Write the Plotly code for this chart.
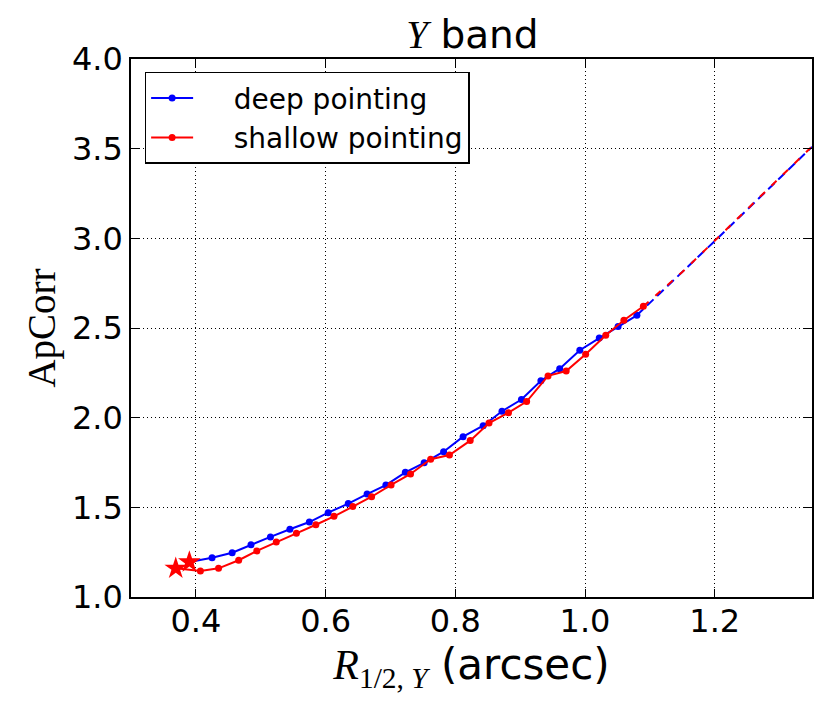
import plotly.graph_objects as go

# deep pointing (blue)
deep_r = [0.390, 0.425, 0.456, 0.485, 0.515, 0.545, 0.575, 0.604, 0.635, 0.664,
          0.693, 0.723, 0.752, 0.782, 0.812, 0.843, 0.872, 0.902, 0.932, 0.961,
          0.992, 1.022, 1.051, 1.080]
deep_apcorr = [1.195, 1.219, 1.247, 1.292, 1.335, 1.378, 1.418, 1.470, 1.521, 1.574,
               1.624, 1.695, 1.748, 1.810, 1.894, 1.955, 2.036, 2.101, 2.206, 2.273,
               2.376, 2.444, 2.508, 2.571]

# shallow pointing (red)
shallow_r = [0.369, 0.407, 0.435, 0.466, 0.494, 0.524, 0.555, 0.585, 0.613, 0.642,
             0.671, 0.701, 0.731, 0.762, 0.791, 0.823, 0.852, 0.882, 0.910, 0.943,
             0.971, 1.001, 1.032, 1.060, 1.090]
shallow_apcorr = [1.160, 1.145, 1.160, 1.205, 1.257, 1.307, 1.355, 1.403, 1.450, 1.504,
                  1.559, 1.625, 1.686, 1.768, 1.792, 1.872, 1.970, 2.028, 2.090, 2.233,
                  2.260, 2.354, 2.460, 2.543, 2.621]

# dashed extrapolations
deep_ext_r = [1.080, 1.150, 1.200, 1.250, 1.300, 1.350]
deep_ext_apcorr = [2.571, 2.810, 2.985, 3.160, 3.335, 3.510]
shallow_ext_r = [1.090, 1.150, 1.200, 1.250, 1.300, 1.350]
shallow_ext_apcorr = [2.621, 2.812, 2.987, 3.162, 3.337, 3.512]

# star markers at the start of each curve
star_r = [0.369, 0.390]
star_apcorr = [1.160, 1.195]

x_ticks = [0.4, 0.6, 0.8, 1.0, 1.2]
y_ticks = [1.0, 1.5, 2.0, 2.5, 3.0, 3.5, 4.0]

BLUE = "#0000ff"
RED = "#ff0000"
SERIF = "Liberation Serif"
SANS = "DejaVu Sans"
PAD = "\u00a0" * 4

fig = go.Figure()

fig.add_trace(go.Scatter(x=deep_ext_r, y=deep_ext_apcorr, mode="lines",
                         line=dict(color=BLUE, width=2, dash="9px,5px"),
                         showlegend=False, hoverinfo="skip"))
fig.add_trace(go.Scatter(x=shallow_ext_r, y=shallow_ext_apcorr, mode="lines",
                         line=dict(color=RED, width=2, dash="7px,9px"),
                         showlegend=False, hoverinfo="skip"))
fig.add_trace(go.Scatter(x=deep_r, y=deep_apcorr, mode="lines+markers",
                         name=PAD + "deep pointing", legendgroup="a",
                         line=dict(color=BLUE, width=2),
                         marker=dict(color=BLUE, size=7)))
fig.add_trace(go.Scatter(x=shallow_r, y=shallow_apcorr, mode="lines+markers",
                         name=PAD + "shallow pointing", legendgroup="b",
                         line=dict(color=RED, width=2),
                         marker=dict(color=RED, size=7)))
fig.add_trace(go.Scatter(x=star_r, y=star_apcorr, mode="markers",
                         marker=dict(color=RED, size=17, symbol="star",
                                     line=dict(width=0)),
                         showlegend=False))

axis_common = dict(
    showline=True, linecolor="black", linewidth=1.5, mirror="allticks",
    ticks="inside", ticklen=8, tickwidth=1, tickcolor="black",
    showgrid=True, gridcolor="black", gridwidth=1, griddash="1px,3px",
    zeroline=False, tickfont=dict(family=SANS, size=32, color="black"),
)

fig.update_xaxes(
    range=[0.3, 1.35], tickvals=x_ticks, tickformat=".1f",
    ticklabelstandoff=-5,
    title=dict(
        text=(f"<span style=\"font-family:{SERIF}\"><i>R</i>"
              f"<sub>1/2, <i>Y</i></sub></span> (arcsec)"),
        font=dict(family=SANS, size=42, color="black"), standoff=0),
    **axis_common)
fig.update_yaxes(
    range=[1.0, 4.0], tickvals=y_ticks, tickformat=".1f",
    title=dict(text="ApCorr", font=dict(family=SERIF, size=39, color="black"),
               standoff=4),
    **axis_common)

# the page adds an 8px body margin, so the figure is made a little smaller
fig.update_layout(
    width=822, height=704,
    margin=dict(l=123, r=18, t=51, b=115),
    paper_bgcolor="white", plot_bgcolor="white",
    title=dict(
        text=f"<span style=\"font-family:{SERIF}\"><i>Y</i></span> band",
        font=dict(family=SANS, size=39, color="black"),
        x=0.565, xanchor="center", y=0.9435, yanchor="bottom"),
    legend=dict(
        x=0.02, y=0.976, xanchor="left", yanchor="top",
        bgcolor="white", bordercolor="black", borderwidth=1.5,
        font=dict(family=SANS, size=28, color="black"),
        traceorder="grouped", tracegroupgap=0, itemwidth=42),
)

fig.write_html("out.html")
